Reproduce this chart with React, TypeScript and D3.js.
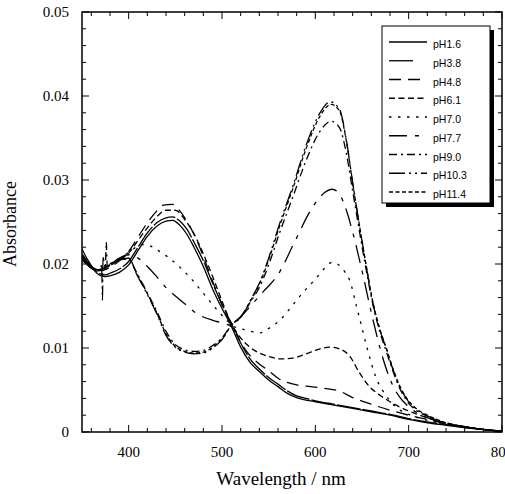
import React from "react";
import * as d3 from "d3";

// Absorption spectra of the dye at several pH values: [wavelength nm, absorbance]
const pH16: [number, number][] = [
  [350, 0.0218], [355, 0.0207], [360, 0.0198], [365, 0.019], [370, 0.0186], [375, 0.0185], [380, 0.0186],
  [390, 0.019], [400, 0.0199], [410, 0.0216], [420, 0.0233], [430, 0.0245], [440, 0.0251], [447, 0.0252],
  [455, 0.0246], [462, 0.0236], [470, 0.022], [480, 0.0197], [490, 0.017], [500, 0.0147], [510, 0.0126],
  [520, 0.0101], [530, 0.0083], [540, 0.0072], [550, 0.0062], [560, 0.0054], [570, 0.0046], [580, 0.0041],
  [590, 0.0038], [600, 0.0036], [620, 0.0032], [640, 0.0028], [660, 0.0024], [680, 0.002], [700, 0.0015],
  [720, 0.0011], [740, 0.0008], [760, 0.0005], [780, 0.0003], [800, 0.0001],
];
const pH38: [number, number][] = [
  [350, 0.0212], [355, 0.0204], [360, 0.0196], [365, 0.0191], [370, 0.0188], [375, 0.0187], [380, 0.0189],
  [390, 0.0194], [400, 0.0203], [410, 0.022], [420, 0.0237], [430, 0.0249], [440, 0.0255], [447, 0.0256],
  [455, 0.0251], [462, 0.0242], [470, 0.0226], [480, 0.0204], [490, 0.0177], [500, 0.0152], [510, 0.0129],
  [520, 0.0106], [530, 0.0087], [540, 0.0075], [550, 0.0065], [560, 0.0057], [570, 0.0049], [580, 0.0043],
  [590, 0.004], [600, 0.0037], [620, 0.0033], [640, 0.0029], [660, 0.0025], [680, 0.0021], [700, 0.0016],
  [720, 0.0012], [740, 0.0009], [760, 0.0006], [780, 0.0003], [800, 0.0001],
];
const pH48: [number, number][] = [
  [350, 0.0205], [355, 0.02], [360, 0.0195], [365, 0.0192], [370, 0.0192], [380, 0.0196], [390, 0.0204],
  [400, 0.0215], [410, 0.0232], [420, 0.0249], [430, 0.0263], [437, 0.027], [447, 0.0271], [455, 0.0263],
  [465, 0.0246], [475, 0.0223], [485, 0.0194], [495, 0.0165], [505, 0.0139], [512, 0.0126], [520, 0.0107],
  [530, 0.0091], [540, 0.0081], [550, 0.0073], [560, 0.0064], [570, 0.0059], [580, 0.0056], [595, 0.0054],
  [610, 0.0052], [625, 0.0049], [640, 0.0041], [660, 0.0033], [680, 0.0026], [700, 0.002], [720, 0.0015],
  [740, 0.001], [760, 0.0006], [780, 0.0003], [800, 0.0001],
];
const pH61: [number, number][] = [
  [350, 0.021], [355, 0.0203], [360, 0.0197], [365, 0.0193], [370, 0.0193], [380, 0.0198], [390, 0.0205],
  [400, 0.0213], [410, 0.0228], [420, 0.0243], [430, 0.0256], [440, 0.0264], [450, 0.0264], [460, 0.0253],
  [470, 0.0236], [480, 0.0212], [490, 0.0185], [500, 0.0156], [510, 0.0129], [520, 0.0112], [530, 0.0101],
  [540, 0.0094], [550, 0.009], [562, 0.0087], [576, 0.0088], [590, 0.0093], [605, 0.0099], [615, 0.0101],
  [626, 0.0099], [637, 0.009], [647, 0.0071], [658, 0.0054], [669, 0.0044], [680, 0.0036], [690, 0.003],
  [700, 0.0025], [720, 0.0017], [740, 0.0011], [760, 0.0006], [780, 0.0003], [800, 0.0001],
];
const pH70: [number, number][] = [
  [350, 0.021], [355, 0.0203], [360, 0.0197], [365, 0.0194], [370, 0.0194], [380, 0.0198], [390, 0.0206],
  [400, 0.0214], [408, 0.022], [415, 0.0223], [422, 0.0222], [430, 0.0217], [440, 0.021], [450, 0.0201],
  [465, 0.0185], [480, 0.0165], [495, 0.0145], [505, 0.0133], [512, 0.0126], [520, 0.0123], [530, 0.012],
  [541, 0.0118], [551, 0.0124], [562, 0.0133], [575, 0.015], [586, 0.0165], [600, 0.0182], [610, 0.0195],
  [618, 0.0202], [626, 0.0198], [632, 0.019], [637, 0.018], [644, 0.015], [650, 0.0124], [655, 0.0102],
  [665, 0.0065], [676, 0.0043], [687, 0.0029], [700, 0.0021], [720, 0.0014], [740, 0.001], [760, 0.0006],
  [780, 0.0003], [800, 0.0001],
];
const pH77: [number, number][] = [
  [350, 0.0208], [355, 0.0202], [360, 0.0197], [365, 0.0194], [370, 0.0194], [380, 0.0199], [390, 0.0207],
  [400, 0.0211], [410, 0.0207], [420, 0.0197], [430, 0.0185], [440, 0.0172], [451, 0.0161], [462, 0.0151],
  [473, 0.0141], [490, 0.0133], [500, 0.013], [510, 0.0127], [520, 0.0137], [533, 0.0153], [545, 0.0168],
  [551, 0.0175], [562, 0.0191], [575, 0.022], [583, 0.0238], [590, 0.0254], [601, 0.0274], [610, 0.0285],
  [618, 0.0289], [626, 0.0283], [632, 0.0268], [640, 0.0238], [650, 0.0192], [660, 0.0142], [670, 0.0097],
  [680, 0.0063], [690, 0.0042], [700, 0.003], [720, 0.0017], [740, 0.001], [760, 0.0006], [780, 0.0003],
  [800, 0.0001],
];
const pH90: [number, number][] = [
  [350, 0.0207], [355, 0.0201], [360, 0.0196], [365, 0.0193], [370, 0.0193], [375, 0.0196], [376, 0.0226],
  [377, 0.0198], [380, 0.0199], [390, 0.0205], [400, 0.0206], [408, 0.0191], [418, 0.017], [430, 0.0144],
  [440, 0.012], [450, 0.0104], [460, 0.0098], [470, 0.0096], [480, 0.0097], [490, 0.0103], [500, 0.0112],
  [510, 0.0127], [522, 0.014], [530, 0.0154], [540, 0.0172], [550, 0.0199], [562, 0.0238], [576, 0.028],
  [590, 0.0323], [605, 0.0358], [617, 0.037], [626, 0.0362], [633, 0.0333], [640, 0.0287], [648, 0.0234],
  [655, 0.019], [662, 0.015], [669, 0.012], [676, 0.0096], [683, 0.0073], [690, 0.0053], [698, 0.0037],
  [708, 0.0026], [722, 0.0018], [740, 0.001], [762, 0.0006], [787, 0.0002], [800, 0.0001],
];
const pH103: [number, number][] = [
  [350, 0.0206], [355, 0.02], [360, 0.0195], [365, 0.0192], [370, 0.0193], [371, 0.02], [372, 0.0157],
  [372.5, 0.0208], [375, 0.0196], [380, 0.0199], [390, 0.0205], [400, 0.0207], [408, 0.0189], [418, 0.0168],
  [430, 0.0141], [440, 0.0115], [450, 0.0101], [460, 0.0095], [470, 0.0093], [480, 0.0094], [490, 0.01],
  [500, 0.011], [510, 0.0127], [522, 0.014], [530, 0.0156], [540, 0.0177], [550, 0.0207], [562, 0.0249],
  [576, 0.0293], [590, 0.0341], [605, 0.038], [616, 0.0393], [626, 0.0384], [633, 0.0349], [640, 0.0297],
  [648, 0.0241], [655, 0.0194], [662, 0.0152], [669, 0.0122], [676, 0.0099], [683, 0.0075], [690, 0.0055],
  [698, 0.0039], [708, 0.0027], [722, 0.0018], [740, 0.001], [762, 0.0006], [787, 0.0002], [800, 0.0001],
];
const pH114: [number, number][] = [
  [350, 0.0205], [355, 0.02], [360, 0.0195], [365, 0.0193], [370, 0.0194], [380, 0.02], [390, 0.0206],
  [400, 0.0207], [408, 0.019], [418, 0.0169], [430, 0.0142], [440, 0.0117], [450, 0.0102], [460, 0.0096],
  [470, 0.0094], [480, 0.0095], [490, 0.0101], [500, 0.0111], [510, 0.0127], [522, 0.0139], [530, 0.0155],
  [540, 0.0176], [550, 0.0205], [562, 0.0246], [576, 0.029], [590, 0.0337], [605, 0.0376], [617, 0.039],
  [626, 0.0382], [633, 0.0348], [640, 0.0296], [648, 0.0241], [655, 0.0195], [662, 0.0153], [669, 0.0123],
  [676, 0.01], [683, 0.0076], [690, 0.0056], [698, 0.004], [708, 0.0028], [722, 0.0019], [740, 0.0011],
  [762, 0.0006], [787, 0.0002], [800, 0.0001],
];

const seriesLabels = ["pH1.6", "pH3.8", "pH4.8", "pH6.1", "pH7.0", "pH7.7", "pH9.0", "pH10.3", "pH11.4"];
const seriesData = [pH16, pH38, pH48, pH61, pH70, pH77, pH90, pH103, pH114];
const dashes = ["", "24 2", "12 7", "6 3.5", "2.5 6.5", "18 8 4 8", "8 4 2 4", "16 4 2 4 2 4", "4 2.5"];
const legendDashes = ["", "24 40", "12 7", "6 3.5", "2.5 6.5", "18 8 4 8", "8 4 2 4", "16 4 2 4 2 4", "4 2.5"];

const xTicks = [400, 500, 600, 700, 800];
const yTicks = [0, 0.01, 0.02, 0.03, 0.04, 0.05];
const yTickLabels = ["0", "0.01", "0.02", "0.03", "0.04", "0.05"];

const W = 505;
const H = 494;
const left = 82;
const right = 502;
const top = 12;
const bottom = 432;

export default function App() {
  const x = d3.scaleLinear().domain([350, 800]).range([left, right]);
  const y = d3.scaleLinear().domain([0, 0.05]).range([bottom, top]);
  const line = d3
    .line<[number, number]>()
    .x((d) => x(d[0]))
    .y((d) => y(d[1]))
    .curve(d3.curveMonotoneX);

  const xMinor = d3.range(360, 801, 20).filter((v) => v % 100 !== 0);
  const yMinor = d3.range(0, 0.0501, 0.002).filter((v) => Math.abs(v * 100 - Math.round(v * 100)) > 1e-6);

  const serif = "'Liberation Serif', 'Times New Roman', serif";
  const sans = "'Liberation Sans', Arial, sans-serif";

  const legX = 382;
  const legY = 26;
  const legW = 108;
  const legH = 177;

  return (
    <svg width={W} height={H} style={{ position: "absolute", left: 0, top: 0, background: "#fff" }}>
      <defs>
        <clipPath id="plotClip">
          <rect x={left} y={top} width={right - left} height={bottom - top} />
        </clipPath>
      </defs>

      {/* curves */}
      <g clipPath="url(#plotClip)">
        {seriesData.map((s, i) => (
          <path
            key={seriesLabels[i]}
            d={line(s) || ""}
            fill="none"
            stroke="#000"
            strokeWidth={1.3}
            strokeDasharray={dashes[i] || undefined}
          />
        ))}
      </g>

      {/* frame */}
      <rect x={left} y={top} width={right - left} height={bottom - top} fill="none" stroke="#000" strokeWidth={1.5} />

      {/* x ticks, bottom and top, pointing inward */}
      {xTicks.map((t) => (
        <g key={"xt" + t}>
          <line x1={x(t)} x2={x(t)} y1={bottom} y2={bottom - 7} stroke="#000" strokeWidth={1} />
          <line x1={x(t)} x2={x(t)} y1={top} y2={top + 7} stroke="#000" strokeWidth={1} />
          <text x={x(t)} y={457} fontFamily={serif} fontSize={15} textAnchor="middle">
            {t}
          </text>
        </g>
      ))}
      {xMinor.map((t) => (
        <g key={"xm" + t}>
          <line x1={x(t)} x2={x(t)} y1={bottom} y2={bottom - 4} stroke="#000" strokeWidth={1} />
          <line x1={x(t)} x2={x(t)} y1={top} y2={top + 4} stroke="#000" strokeWidth={1} />
        </g>
      ))}

      {/* y ticks, left and right */}
      {yTicks.map((t, i) => (
        <g key={"yt" + t}>
          <line x1={left} x2={left + 7} y1={y(t)} y2={y(t)} stroke="#000" strokeWidth={1} />
          <line x1={right} x2={right - 7} y1={y(t)} y2={y(t)} stroke="#000" strokeWidth={1} />
          <text x={69} y={y(t) + 5} fontFamily={serif} fontSize={15} textAnchor="end">
            {yTickLabels[i]}
          </text>
        </g>
      ))}
      {yMinor.map((t) => (
        <g key={"ym" + t}>
          <line x1={left} x2={left + 4} y1={y(t)} y2={y(t)} stroke="#000" strokeWidth={1} />
          <line x1={right} x2={right - 4} y1={y(t)} y2={y(t)} stroke="#000" strokeWidth={1} />
        </g>
      ))}

      {/* axis titles */}
      <text x={281} y={485} fontFamily={serif} fontSize={19} textAnchor="middle">
        Wavelength / nm
      </text>
      <text
        transform={`translate(16,224) rotate(-90)`}
        fontFamily={serif}
        fontSize={18}
        textAnchor="middle"
      >
        Absorbance
      </text>

      {/* legend with drop shadow */}
      <rect x={legX + 4} y={legY + 4} width={legW} height={legH} fill="#000" />
      <rect x={legX} y={legY} width={legW} height={legH} fill="#fff" stroke="#000" strokeWidth={1} />
      {seriesLabels.map((lab, i) => {
        const by = 48 + i * 18.75;
        return (
          <g key={"lg" + lab}>
            <line
              x1={389}
              x2={427}
              y1={by - 6}
              y2={by - 6}
              stroke="#000"
              strokeWidth={1.3}
              strokeDasharray={legendDashes[i] || undefined}
            />
            <text x={433} y={by} fontFamily={sans} fontSize={10.5}>
              {lab}
            </text>
          </g>
        );
      })}
    </svg>
  );
}
